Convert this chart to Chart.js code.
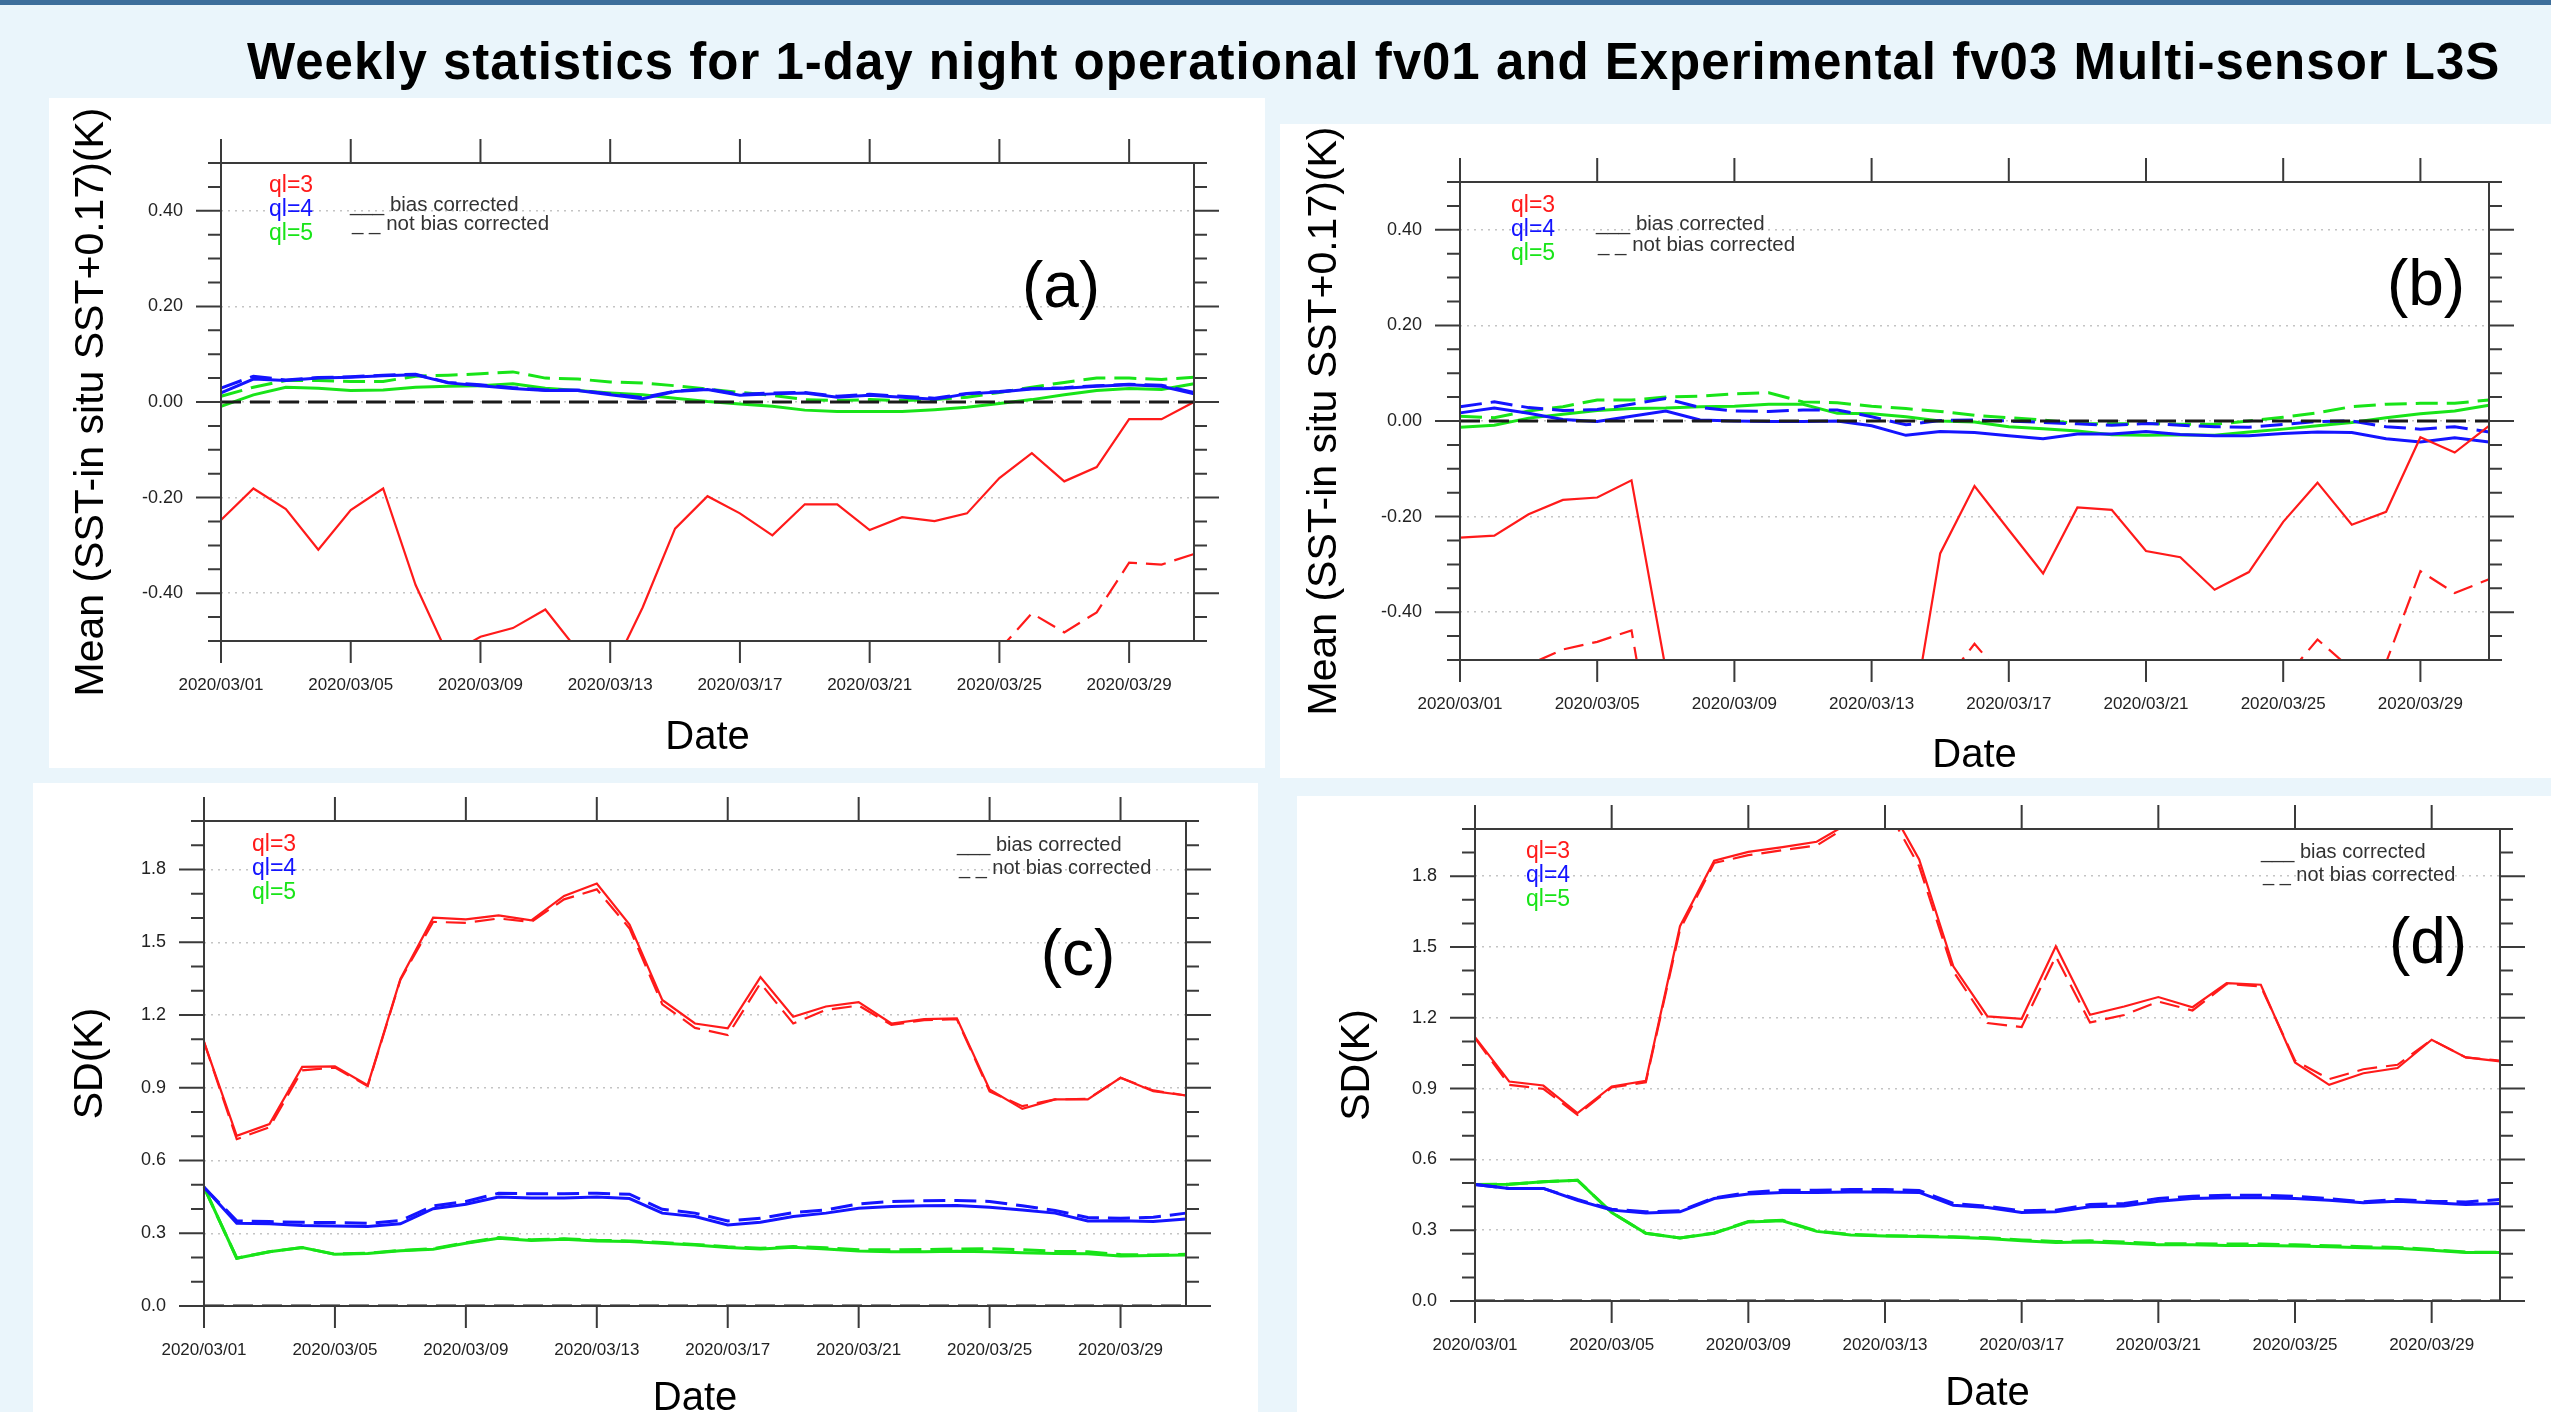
<!DOCTYPE html>
<html>
<head>
<meta charset="utf-8">
<script src="https://cdn.jsdelivr.net/npm/chart.js"></script>
<style>
  body { margin: 0; width: 2551px; height: 1412px; background: #eaf5fb; position: relative; overflow: hidden;
         font-family: 'Liberation Sans', Arial, sans-serif; }
  #topbar { position: absolute; left: 0; top: 0; width: 2551px; height: 5px; background: #3d6e9b; }
  #title { position: absolute; left: 247px; top: 37px; font-size: 51px; line-height: 50px; font-weight: bold;
           letter-spacing: 1px; white-space: nowrap; color: #000; }
  .panel { position: absolute; background: #fff; }
  .panel canvas { display: block; }
</style>
</head>
<body>
<div id="topbar"></div>
<div id="title">Weekly statistics for 1-day night operational fv01 and Experimental fv03 Multi-sensor L3S</div>

<div class="panel" style="left:49px;top:98px;width:1216px;height:670px"><canvas id="chartA" width="1216" height="670"></canvas></div>
<div class="panel" style="left:1280px;top:124px;width:1271px;height:654px"><canvas id="chartB" width="1271" height="654"></canvas></div>
<div class="panel" style="left:33px;top:783px;width:1225px;height:629px"><canvas id="chartC" width="1225" height="629"></canvas></div>
<div class="panel" style="left:1297px;top:796px;width:1254px;height:616px"><canvas id="chartD" width="1254" height="616"></canvas></div>

<script>
// Dates (March 2020, daily)
const dates = ['2020/03/01', '2020/03/02', '2020/03/03', '2020/03/04', '2020/03/05', '2020/03/06', '2020/03/07',
  '2020/03/08', '2020/03/09', '2020/03/10', '2020/03/11', '2020/03/12', '2020/03/13', '2020/03/14', '2020/03/15',
  '2020/03/16', '2020/03/17', '2020/03/18', '2020/03/19', '2020/03/20', '2020/03/21', '2020/03/22', '2020/03/23',
  '2020/03/24', '2020/03/25', '2020/03/26', '2020/03/27', '2020/03/28', '2020/03/29', '2020/03/30', '2020/03/31'];
const dateTicks = ['2020/03/01', '2020/03/05', '2020/03/09', '2020/03/13', '2020/03/17', '2020/03/21', '2020/03/25', '2020/03/29'];
const meanTicks = [-0.4, -0.2, 0, 0.2, 0.4];
const sdTicks = [0, 0.3, 0.6, 0.9, 1.2, 1.5, 1.8];

// (a) mean, operational fv01
const aQl3Bc  = [-0.247, -0.181, -0.224, -0.309, -0.226, -0.181, -0.383, -0.53, -0.491, -0.473, -0.434, -0.52, -0.57, -0.43, -0.265, -0.197, -0.233, -0.279, -0.214, -0.214, -0.268, -0.241, -0.249, -0.233, -0.159, -0.107, -0.166, -0.136, -0.036, -0.036, 0.0];
const aQl3Nbc = [-0.58, -0.52, -0.56, -0.64, -0.56, -0.52, -0.71, -0.86, -0.82, -0.80, -0.76, -0.85, -0.90, -0.76, -0.60, -0.53, -0.56, -0.61, -0.55, -0.55, -0.60, -0.57, -0.58, -0.56, -0.518, -0.442, -0.482, -0.44, -0.336, -0.340, -0.318];
const aQl4Bc  = [0.019, 0.048, 0.045, 0.050, 0.052, 0.055, 0.057, 0.040, 0.034, 0.028, 0.024, 0.024, 0.015, 0.007, 0.022, 0.026, 0.014, 0.017, 0.019, 0.010, 0.014, 0.010, 0.006, 0.017, 0.021, 0.027, 0.029, 0.033, 0.036, 0.033, 0.017];
const aQl4Nbc = [0.029, 0.054, 0.046, 0.051, 0.053, 0.056, 0.058, 0.041, 0.036, 0.030, 0.025, 0.025, 0.017, 0.009, 0.023, 0.027, 0.016, 0.019, 0.020, 0.012, 0.016, 0.012, 0.008, 0.018, 0.022, 0.028, 0.030, 0.034, 0.037, 0.035, 0.020];
const aQl5Bc  = [-0.009, 0.015, 0.031, 0.029, 0.024, 0.025, 0.031, 0.033, 0.034, 0.038, 0.029, 0.024, 0.019, 0.015, 0.008, 0.001, -0.004, -0.009, -0.017, -0.020, -0.020, -0.020, -0.016, -0.011, -0.003, 0.005, 0.015, 0.024, 0.028, 0.026, 0.038];
const aQl5Nbc = [0.012, 0.031, 0.045, 0.045, 0.043, 0.043, 0.054, 0.056, 0.059, 0.063, 0.050, 0.048, 0.042, 0.040, 0.034, 0.027, 0.020, 0.014, 0.005, 0.003, 0.005, 0.003, 0.005, 0.010, 0.020, 0.031, 0.041, 0.050, 0.050, 0.047, 0.052];

// (b) mean, experimental fv03
const bQl3Bc  = [-0.244, -0.240, -0.195, -0.165, -0.160, -0.124, -0.52, -0.62, -0.66, -0.70, -0.68, -0.72, -0.75, -0.706, -0.277, -0.136, -0.228, -0.319, -0.181, -0.186, -0.272, -0.285, -0.353, -0.316, -0.211, -0.129, -0.217, -0.190, -0.034, -0.066, -0.010];
const bQl3Nbc = [-0.58, -0.56, -0.51, -0.478, -0.462, -0.438, -0.85, -0.95, -0.98, -1.0, -1.0, -1.02, -1.05, -1.0, -0.56, -0.466, -0.55, -0.65, -0.53, -0.53, -0.60, -0.62, -0.69, -0.65, -0.543, -0.457, -0.52, -0.505, -0.314, -0.360, -0.331];
const bQl4Bc  = [0.017, 0.027, 0.016, 0.003, -0.001, 0.010, 0.021, 0.002, 0.0, -0.001, -0.001, 0.0, -0.010, -0.030, -0.022, -0.024, -0.031, -0.037, -0.027, -0.027, -0.022, -0.028, -0.031, -0.031, -0.026, -0.023, -0.024, -0.037, -0.044, -0.035, -0.044];
const bQl4Nbc = [0.030, 0.040, 0.028, 0.022, 0.024, 0.035, 0.047, 0.028, 0.021, 0.020, 0.023, 0.023, 0.009, -0.008, 0.001, 0.002, 0.0, -0.003, -0.006, -0.009, -0.005, -0.009, -0.012, -0.013, -0.007, -0.001, 0.0, -0.012, -0.017, -0.012, -0.023];
const bQl5Bc  = [-0.013, -0.009, 0.006, 0.014, 0.022, 0.026, 0.027, 0.030, 0.031, 0.035, 0.035, 0.016, 0.015, 0.009, 0.0, -0.002, -0.012, -0.016, -0.021, -0.029, -0.030, -0.029, -0.030, -0.023, -0.017, -0.010, -0.003, 0.007, 0.015, 0.021, 0.033];
const bQl5Nbc = [0.010, 0.007, 0.021, 0.030, 0.044, 0.044, 0.050, 0.052, 0.057, 0.059, 0.040, 0.038, 0.031, 0.026, 0.020, 0.012, 0.007, 0.002, -0.005, -0.006, -0.005, -0.007, -0.007, 0.0, 0.008, 0.017, 0.030, 0.035, 0.037, 0.037, 0.044];

// (c) SD, operational fv01
const cQl3Bc  = [1.089, 0.702, 0.750, 0.986, 0.988, 0.910, 1.349, 1.601, 1.594, 1.611, 1.590, 1.691, 1.742, 1.573, 1.262, 1.165, 1.145, 1.356, 1.193, 1.235, 1.253, 1.165, 1.183, 1.186, 0.893, 0.813, 0.852, 0.852, 0.941, 0.886, 0.868];
const cQl3Nbc = [1.089, 0.688, 0.737, 0.972, 0.983, 0.907, 1.345, 1.584, 1.580, 1.598, 1.584, 1.677, 1.718, 1.557, 1.244, 1.147, 1.117, 1.331, 1.165, 1.221, 1.239, 1.159, 1.179, 1.183, 0.885, 0.824, 0.852, 0.854, 0.941, 0.889, 0.868];
const cQl4Bc  = [0.490, 0.341, 0.339, 0.332, 0.330, 0.328, 0.339, 0.401, 0.420, 0.449, 0.445, 0.445, 0.449, 0.443, 0.383, 0.369, 0.334, 0.345, 0.369, 0.383, 0.403, 0.410, 0.413, 0.414, 0.407, 0.396, 0.383, 0.351, 0.352, 0.348, 0.359];
const cQl4Nbc = [0.490, 0.351, 0.348, 0.345, 0.344, 0.341, 0.352, 0.413, 0.431, 0.465, 0.463, 0.463, 0.465, 0.461, 0.399, 0.383, 0.351, 0.362, 0.385, 0.396, 0.421, 0.431, 0.434, 0.435, 0.431, 0.413, 0.394, 0.365, 0.362, 0.366, 0.383];
const cQl5Bc  = [0.490, 0.197, 0.224, 0.241, 0.213, 0.217, 0.228, 0.234, 0.259, 0.279, 0.270, 0.275, 0.268, 0.266, 0.259, 0.252, 0.241, 0.235, 0.242, 0.235, 0.227, 0.224, 0.224, 0.226, 0.224, 0.220, 0.217, 0.215, 0.206, 0.208, 0.210];
const cQl5Nbc = [0.490, 0.197, 0.224, 0.241, 0.214, 0.218, 0.229, 0.236, 0.261, 0.282, 0.273, 0.277, 0.271, 0.268, 0.262, 0.254, 0.244, 0.238, 0.245, 0.240, 0.232, 0.232, 0.233, 0.235, 0.236, 0.232, 0.226, 0.224, 0.212, 0.210, 0.213];

// (d) SD, experimental fv03
const dQl3Bc  = [1.118, 0.930, 0.913, 0.796, 0.909, 0.933, 1.588, 1.866, 1.903, 1.923, 1.946, 2.03, 2.13, 1.871, 1.418, 1.206, 1.196, 1.503, 1.213, 1.248, 1.288, 1.245, 1.347, 1.340, 1.011, 0.916, 0.965, 0.987, 1.107, 1.032, 1.015];
const dQl3Nbc = [1.114, 0.916, 0.899, 0.789, 0.905, 0.927, 1.574, 1.856, 1.889, 1.910, 1.930, 2.02, 2.10, 1.842, 1.397, 1.178, 1.161, 1.460, 1.180, 1.212, 1.269, 1.231, 1.343, 1.333, 1.019, 0.940, 0.982, 1.001, 1.107, 1.032, 1.019];
const dQl4Bc  = [0.494, 0.477, 0.477, 0.427, 0.385, 0.373, 0.378, 0.434, 0.453, 0.460, 0.460, 0.462, 0.462, 0.460, 0.406, 0.396, 0.375, 0.378, 0.399, 0.403, 0.423, 0.434, 0.438, 0.438, 0.434, 0.427, 0.416, 0.423, 0.416, 0.409, 0.413];
const dQl4Nbc = [0.494, 0.477, 0.477, 0.430, 0.389, 0.378, 0.382, 0.437, 0.460, 0.469, 0.469, 0.472, 0.472, 0.468, 0.413, 0.402, 0.382, 0.385, 0.409, 0.413, 0.434, 0.444, 0.448, 0.448, 0.444, 0.434, 0.420, 0.430, 0.423, 0.420, 0.430];
const dQl5Bc  = [0.494, 0.495, 0.505, 0.512, 0.375, 0.287, 0.267, 0.287, 0.335, 0.340, 0.295, 0.280, 0.275, 0.273, 0.270, 0.265, 0.255, 0.248, 0.250, 0.245, 0.238, 0.238, 0.235, 0.235, 0.233, 0.230, 0.226, 0.224, 0.215, 0.205, 0.205];
const dQl5Nbc = [0.494, 0.495, 0.505, 0.512, 0.375, 0.287, 0.267, 0.288, 0.337, 0.342, 0.297, 0.282, 0.277, 0.275, 0.272, 0.268, 0.259, 0.252, 0.255, 0.250, 0.243, 0.243, 0.241, 0.241, 0.238, 0.234, 0.230, 0.227, 0.218, 0.207, 0.207];

const RED = '#ff1a1a', BLUE = '#1414ff', GREEN = '#18e418', AXIS = '#3a3a3a';

Chart.defaults.font.family = "'Liberation Sans', Arial, sans-serif";
Chart.defaults.color = '#222';

// frame + outward major/minor tick marks on all four sides
const frameTicks = {
  id: 'frameTicks',
  afterDatasetsDraw(chart, args, opts) {
    const {ctx, chartArea: a, scales: {x, y}} = chart;
    ctx.save();
    ctx.strokeStyle = AXIS;
    ctx.lineWidth = 2;
    ctx.strokeRect(a.left, a.top, a.right - a.left, a.bottom - a.top);
    ctx.beginPath();
    const n = Math.round((y.max - y.min) / opts.minor);
    for (let i = 0; i <= n; i++) {
      const v = y.min + i * opts.minor;
      const major = opts.major.some(m => Math.abs(m - v) < 1e-6);
      const len = major ? 25 : 13;
      const py = y.getPixelForValue(v);
      ctx.moveTo(a.left - len, py); ctx.lineTo(a.left, py);
      ctx.moveTo(a.right, py); ctx.lineTo(a.right + len, py);
    }
    x.ticks.forEach(t => {
      const px = x.getPixelForValue(t.value);
      ctx.moveTo(px, a.top - 24); ctx.lineTo(px, a.top);
      ctx.moveTo(px, a.bottom); ctx.lineTo(px, a.bottom + 22);
    });
    ctx.stroke();
    ctx.restore();
  }
};

// in-plot legend text and panel tag
const panelDecor = {
  id: 'panelDecor',
  afterDraw(chart, args, o) {
    const {ctx, chartArea: a} = chart;
    ctx.save();
    ctx.textBaseline = 'middle';
    ctx.textAlign = 'left';
    ctx.font = "23px 'Liberation Sans', Arial, sans-serif";
    [['ql=3', RED], ['ql=4', BLUE], ['ql=5', GREEN]].forEach(([t, c], i) => {
      ctx.fillStyle = c;
      ctx.fillText(t, a.left + o.ql[0], a.top + o.ql[1] + i * 24);
    });
    ctx.fillStyle = '#333';
    ctx.font = o.biasFont + "px 'Liberation Sans', Arial, sans-serif";
    const bx = o.biasFromRight ? a.right - o.bias[0] : a.left + o.bias[0];
    ctx.fillText('___ bias corrected', bx, a.top + o.bias[1]);
    ctx.fillText('_ _ not bias corrected', bx + 2, a.top + o.bias[1] + o.bias[2]);
    ctx.fillStyle = '#000';
    ctx.textAlign = 'center';
    ctx.font = "64px 'Liberation Sans', Arial, sans-serif";
    ctx.fillText(o.tag, a.right - o.tagPos[0], a.top + o.tagPos[1]);
    ctx.restore();
  }
};

function datasets(bc3, nbc3, bc4, nbc4, bc5, nbc5) {
  const base = {pointRadius: 0, tension: 0, fill: false};
  return [
    {...base, data: [{x: dates[0], y: 0}, {x: dates[dates.length - 1], y: 0}], borderColor: '#1a1a1a', borderWidth: 3, borderDash: [20, 9]},
    {...base, data: bc3, borderColor: RED, borderWidth: 2.2},
    {...base, data: nbc3, borderColor: RED, borderWidth: 2.2, borderDash: [20, 9]},
    {...base, data: bc4, borderColor: BLUE, borderWidth: 3},
    {...base, data: nbc4, borderColor: BLUE, borderWidth: 3, borderDash: [22, 9]},
    {...base, data: bc5, borderColor: GREEN, borderWidth: 3},
    {...base, data: nbc5, borderColor: GREEN, borderWidth: 3, borderDash: [22, 9]}
  ];
}

function makePanel(id, sets, g) {
  return new Chart(document.getElementById(id), {
    type: 'line',
    data: {labels: dates, datasets: sets},
    plugins: [frameTicks, panelDecor],
    options: {
      responsive: false,
      animation: false,
      layout: {padding: {left: 0, top: g.top, right: g.right, bottom: 0}},
      plugins: {
        legend: {display: false},
        tooltip: {enabled: false},
        frameTicks: {major: g.ticks, minor: g.minor},
        panelDecor: g.decor
      },
      scales: {
        x: {
          type: 'category',
          offset: false,
          afterBuildTicks: s => { s.ticks = dateTicks.map(d => ({value: dates.indexOf(d)})); },
          afterFit: s => { s.height = g.xh; },
          grid: {display: false},
          border: {display: false},
          ticks: {autoSkip: false, maxRotation: 0, padding: 26, font: {size: 17}},
          title: {display: true, text: 'Date', color: '#000', font: {size: 40}, padding: {top: 0, bottom: g.xtp}}
        },
        y: {
          min: g.min,
          max: g.max,
          afterBuildTicks: s => { s.ticks = g.ticks.map(v => ({value: v})); },
          afterFit: s => { s.width = g.yw; },
          grid: {color: '#c4c4c4', lineWidth: 1.5, drawTicks: true, tickLength: 38, tickColor: 'rgba(0,0,0,0)'},
          border: {display: false, dash: [2, 5]},
          ticks: {padding: 0, font: {size: 18}, callback: v => v.toFixed(g.dec)},
          title: {display: true, text: g.ytitle, color: '#000', font: {size: 41}, padding: {top: g.ytp, bottom: 0}}
        }
      }
    }
  });
}

const meanTitle = 'Mean (SST-in situ SST+0.17)(K)';

makePanel('chartA', datasets(aQl3Bc, aQl3Nbc, aQl4Bc, aQl4Nbc, aQl5Bc, aQl5Nbc), {
  top: 65, right: 71, yw: 172, xh: 127, ytp: 18, xtp: 5.6, min: -0.5, max: 0.5, ticks: meanTicks, minor: 0.05, dec: 2,
  ytitle: meanTitle,
  decor: {tag: '(a)', tagPos: [133, 126], ql: [48, 23], bias: [129, 42, 19], biasFont: 20.5, biasFromRight: false}
});
makePanel('chartB', datasets(bQl3Bc, bQl3Nbc, bQl4Bc, bQl4Nbc, bQl5Bc, bQl5Nbc), {
  top: 58, right: 62, yw: 180, xh: 118, ytp: 20, xtp: -2.4, min: -0.5, max: 0.5, ticks: meanTicks, minor: 0.05, dec: 2,
  ytitle: meanTitle,
  decor: {tag: '(b)', tagPos: [63, 105], ql: [51, 24], bias: [136, 42, 21], biasFont: 20.5, biasFromRight: false}
});
makePanel('chartC', datasets(cQl3Bc, cQl3Nbc, cQl4Bc, cQl4Nbc, cQl5Bc, cQl5Nbc), {
  top: 38, right: 72, yw: 171, xh: 106, ytp: 33, xtp: -11, min: 0, max: 2.0, ticks: sdTicks, minor: 0.1, dec: 1,
  ytitle: 'SD(K)',
  decor: {tag: '(c)', tagPos: [108, 136], ql: [48, 24], bias: [229, 24, 23], biasFont: 20, biasFromRight: true}
});
makePanel('chartD', datasets(dQl3Bc, dQl3Nbc, dQl4Bc, dQl4Nbc, dQl5Bc, dQl5Nbc), {
  top: 33, right: 51, yw: 178, xh: 111, ytp: 36, xtp: -6, min: 0, max: 2.0, ticks: sdTicks, minor: 0.1, dec: 1,
  ytitle: 'SD(K)',
  decor: {tag: '(d)', tagPos: [72, 116], ql: [51, 23], bias: [239, 23, 23], biasFont: 20, biasFromRight: true}
});
</script>
</body>
</html>
